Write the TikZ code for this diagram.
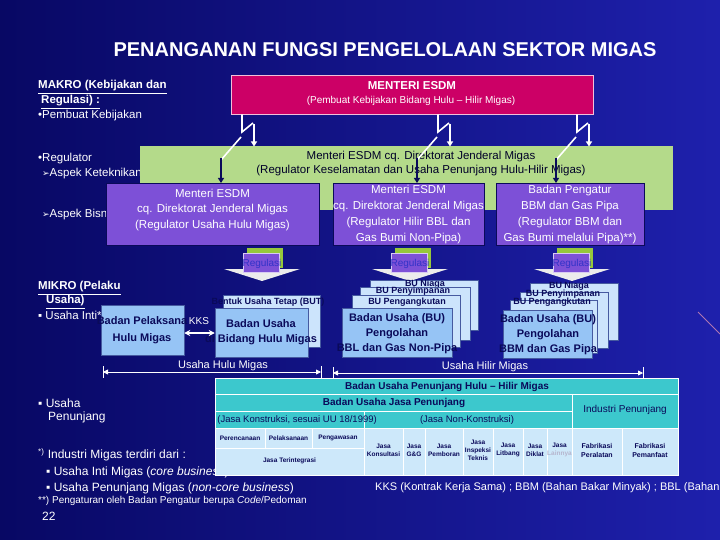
\documentclass[tikz,border=0pt]{standalone}
\usepackage{fontspec}
\setmainfont{Liberation Sans}
\newfontfamily\djv{DejaVu Sans}
\usetikzlibrary{arrows.meta,calc}
\definecolor{bgL}{RGB}{8,8,100}
\definecolor{bgR}{RGB}{30,32,172}
\definecolor{mag}{RGB}{204,0,102}
\definecolor{grn}{RGB}{180,218,138}
\definecolor{rgrn}{RGB}{150,200,60}
\definecolor{pur}{RGB}{125,80,215}
\definecolor{lb}{RGB}{150,196,245}
\definecolor{lbb}{RGB}{204,228,252}
\definecolor{tealc}{RGB}{60,200,205}
\definecolor{tl}{RGB}{205,232,250}
\definecolor{navy}{RGB}{10,10,90}
\definecolor{dk}{RGB}{0,0,40}
\definecolor{regc}{RGB}{50,50,200}
\definecolor{edge}{RGB}{70,90,160}
\newcommand\fsz[2]{\fontsize{#1}{#2}\selectfont}
\tikzset{
  wt/.style={text=white, inner sep=0pt},
  lft/.style={wt, anchor=west, font=\fsz{11.5}{14}},
  nv/.style={text=navy, inner sep=0pt},
  boltw/.style={white, line width=1.6pt},
  boltn/.style={navy, line width=1.6pt},
  pbox/.style={draw=navy, fill=pur, line width=0.8pt, inner sep=0pt},
  lbox/.style={draw=edge, fill=lb, line width=0.5pt, inner sep=0pt},
  bbox/.style={draw=edge, fill=lbb, line width=0.5pt, inner sep=0pt},
  btxt/.style={nv, font=\bfseries\fsz{11}{13}},
  stxt/.style={nv, font=\bfseries\fsz{9}{10}},
  cell/.style={draw=white, line width=0.8pt},
  ctxt/.style={nv, align=center, font=\bfseries\fsz{6.5}{8}},
  regtxt/.style={text=regc, inner sep=0pt, font=\fsz{10}{12}},
  dimline/.style={white, line width=0.8pt}
}
\newcommand\Bolt[1]{%
  \draw[boltw] ({#1},114.5) -- ({#1},132) -- ({#1+11},123);
  \draw[boltw,-{Triangle[width=6pt,length=5pt]}] ({#1+12},124) -- ({#1+12},146.5);
  \draw[boltw] ({#1-1},137) -- ({#1-21},160);
  \draw[boltn,-{Triangle[width=6pt,length=5pt]}] ({#1-21},158) -- ({#1-21},183);
}
\newcommand\RegA[2]{%
  \fill[rgrn] ({#1-15},248) rectangle ({#1+21},268);
  \fill[gray!15] ({#1-38},269) -- ({#1+38},269) -- ({#1},281) -- cycle;
  \node[draw=white!70!pur, fill=pur, inner sep=0pt, minimum width=36pt, minimum height=19pt] (#2) at ({#1-1},262.5) {};
  \node[regtxt] at ({#1},264) {Regulasi};
}
\begin{document}
\begin{tikzpicture}[x=1pt,y=-1pt]
\useasboundingbox (0,0) rectangle (720,540);
\shade[left color=bgL, right color=bgR] (0,0) rectangle (720,540);
\draw[white!60!magenta!60!bgR, line width=1pt] (698,312) -- (720,334);

% title
\node[wt, font=\bfseries\fsz{20}{24}] (title) at (385,50) {PENANGANAN FUNGSI PENGELOLAAN SEKTOR MIGAS};

% left labels
\node[lft, font=\bfseries\fsz{11.5}{14}] (makroA) at (38,87) {\underline{MAKRO (Kebijakan dan}};
\node[lft, font=\bfseries\fsz{11.5}{14}] (makroB) at (41,102) {\underline{Regulasi) :}};
\node[lft, font=\fsz{11.5}{13}] (pk) at (38,116) {•Pembuat Kebijakan};
\node[lft] (reg) at (38,159) {•Regulator};
\node[lft] (asp1) at (42,174) {{\djv\fsz{9}{11}➢}Aspek Keteknikan};
\node[lft] (asp2) at (42,215) {{\djv\fsz{9}{11}➢}Aspek Bisnis};
\node[lft, font=\bfseries\fsz{11.5}{14}] (mikroA) at (38,288) {\underline{MIKRO (Pelaku}};
\node[lft, font=\bfseries\fsz{11.5}{14}] (mikroB) at (46,302) {\underline{Usaha)}};
\node[lft] (inti) at (38,317) {▪ Usaha Inti*)};
\node[lft, font=\fsz{12}{14}] (penA) at (38,403) {▪ Usaha};
\node[lft, font=\fsz{12}{14}] (penB) at (48,417) {Penunjang};
\node[lft, font=\fsz{12}{14}] (ind) at (38,455) {\textsuperscript{*)} Industri Migas terdiri dari :};
\node[lft, font=\fsz{12}{14}] (indA) at (46,472) {▪ Usaha Inti Migas (\textit{core business})};
\node[lft, font=\fsz{12}{14}] (indB) at (46,488) {▪ Usaha Penunjang Migas (\textit{non-core business})};
\node[lft, font=\fsz{10}{11}] (note) at (38,501) {**) Pengaturan oleh Badan Pengatur berupa \textit{Code}/Pedoman};
\node[lft, font=\fsz{12}{14}] (pg) at (42,516) {22};
\node[lft, font=\fsz{11}{14}] (abbr) at (375,488) {KKS (Kontrak Kerja Sama) ; BBM (Bahan Bakar Minyak) ; BBL (Bahan};

% green box
\node[fill=grn, inner sep=0pt, minimum width=533pt, minimum height=64pt] (green) at (406.5,178) {};
\node[text=dk, inner sep=0pt, align=center, font=\fsz{11.5}{14}] (greent) at (421,164) {Menteri ESDM cq. Direktorat Jenderal Migas\\(Regulator Keselamatan dan Usaha Penunjang Hulu-Hilir Migas)};

% magenta box
\node[draw=white!75!mag, fill=mag, line width=0.8pt, inner sep=0pt, minimum width=362pt, minimum height=39pt] (menteri) at (412,94.5) {};
\node[wt, font=\bfseries\fsz{11.5}{13}] (menteriA) at (412,86) {MENTERI ESDM};
\node[wt, font=\fsz{10}{12}] (menteriB) at (411,101) {(Pembuat Kebijakan Bidang Hulu – Hilir Migas)};

% bolts
\Bolt{242}
\Bolt{438}
\Bolt{577}

% purple boxes
\node[pbox, minimum width=213pt, minimum height=62pt] (p1) at (212.5,214) {};
\node[pbox, minimum width=151pt, minimum height=62pt] (p2) at (408.5,214) {};
\node[pbox, minimum width=148pt, minimum height=62pt] (p3) at (570,214) {};
\node[wt, align=center, font=\fsz{11.5}{15.5}] (p1t) at (212.5,210) {Menteri ESDM\\cq. Direktorat Jenderal Migas\\(Regulator Usaha Hulu Migas)};
\node[wt, align=center, font=\fsz{11.5}{15.8}] (p2t) at (408.5,214.5) {Menteri ESDM\\cq. Direktorat Jenderal Migas\\(Regulator Hilir BBL dan\\Gas Bumi Non-Pipa)};
\node[wt, align=center, font=\fsz{11.5}{15.8}] (p3t) at (570,214.5) {Badan Pengatur\\BBM dan Gas Pipa\\(Regulator BBM dan\\Gas Bumi melalui Pipa)**)};

% regulasi arrows
\RegA{262}{r1}
\RegA{410}{r2}
\RegA{572}{r3}

% hulu boxes
\node[lbox, minimum width=83pt, minimum height=50pt] (bp) at (142.5,330) {};
\node[btxt, align=center, font=\bfseries\fsz{11}{17}] (bpt) at (142,330.5) {Badan Pelaksana\\Hulu Migas};
\node[bbox, minimum width=97pt, minimum height=52pt] (but) at (271.5,321) {};
\node[stxt] (butt) at (268,302) {Bentuk Usaha Tetap (BUT)};
\node[lbox, minimum width=93pt, minimum height=49pt] (hf) at (261.5,332.5) {};
\node[btxt, align=center, font=\bfseries\fsz{11}{15}] (hft) at (261,332.5) {Badan Usaha\\di Bidang Hulu Migas};
\draw[white, line width=1.2pt, {Stealth[length=6pt,width=6pt]}-{Stealth[length=6pt,width=6pt]}] (bp.east) ++(0,3) -- ($(hf.west)+(0,0.5)$);
\node[wt, font=\fsz{10}{12}] (kks) at (199,321) {KKS};

% hilir stack 1
\node[bbox, minimum width=108pt, minimum height=50pt] (s1a) at (424,305) {};
\node[stxt] (s1at) at (425,284) {BU Niaga};
\node[bbox, minimum width=110pt, minimum height=53pt] (s1b) at (415,313.5) {};
\node[stxt] (s1bt) at (413,291.5) {BU Penyimpanan};
\node[bbox, minimum width=108pt, minimum height=52pt] (s1c) at (406,321) {};
\node[stxt] (s1ct) at (407,302) {BU Pengangkutan};
\node[lbox, minimum width=110pt, minimum height=49pt] (s1d) at (397,332.5) {};
\node[btxt, align=center, font=\bfseries\fsz{11}{15}] (s1dt) at (397,334) {Badan Usaha (BU)\\Pengolahan\\BBL dan Gas Non-Pipa};

% hilir stack 2
\node[bbox, minimum width=88pt, minimum height=57pt] (s2a) at (574,311.5) {};
\node[stxt] (s2at) at (569,286.5) {BU Niaga};
\node[bbox, minimum width=88pt, minimum height=56pt] (s2b) at (564,320) {};
\node[stxt] (s2bt) at (563,294.5) {BU Penyimpanan};
\node[bbox, minimum width=87pt, minimum height=53pt] (s2c) at (553.5,326.5) {};
\node[stxt] (s2ct) at (552,302.5) {BU Pengangkutan};
\node[lbox, minimum width=89pt, minimum height=48pt] (s2d) at (547.5,334) {};
\node[btxt, align=center, font=\bfseries\fsz{11}{15}] (s2dt) at (548,335) {Badan Usaha (BU)\\Pengolahan\\BBM dan Gas Pipa};

% dimension lines
\coordinate (huluL) at (103,372);
\coordinate (huluR) at (321,372);
\coordinate (hilirL) at (333,373);
\coordinate (hilirR) at (643,373);
\draw[dimline] (103,366) -- (103,378) (321,366) -- (321,378) (333,367) -- (333,379) (643,367) -- (643,379);
\draw[dimline, {Triangle[length=5pt,width=5pt]}-{Triangle[length=5pt,width=5pt]}] (huluL) -- (huluR);
\draw[dimline, {Triangle[length=5pt,width=5pt]}-{Triangle[length=5pt,width=5pt]}] (hilirL) -- (hilirR);
\node[wt, font=\fsz{11}{13}] (hulut) at (223,365.5) {Usaha Hulu Migas};
\node[wt, font=\fsz{11}{13}] (hilirt) at (485,366.5) {Usaha Hilir Migas};

% table
\filldraw[cell, fill=tealc] (215,378) rectangle (678,394);
\filldraw[cell, fill=tealc] (215,394) rectangle (572,411);
\filldraw[cell, fill=tealc] (572,394) rectangle (678,428);
\filldraw[cell, fill=tealc] (215,411) rectangle (364,428);
\filldraw[cell, fill=tealc] (364,411) rectangle (572,428);
\foreach \a/\b in {215/265,265/312,312/364}{\filldraw[cell, fill=tl] (\a,428) rectangle (\b,448);}
\filldraw[cell, fill=tl] (215,448) rectangle (364,475);
\foreach \a/\b in {364/403,403/425,425/463,463/493,493/523,523/547,547/572,572/622,622/678}{\filldraw[cell, fill=tl] (\a,428) rectangle (\b,475);}
\node[nv, font=\bfseries\fsz{10}{12}] (t1) at (447,386.5) {Badan Usaha Penunjang Hulu – Hilir Migas};
\node[nv, font=\bfseries\fsz{10}{12}] (t2) at (394,403) {Badan Usaha Jasa Penunjang};
\node[nv, font=\fsz{10}{12}] (t3) at (625,410) {Industri Penunjang};
\node[nv, anchor=east, font=\fsz{9.5}{12}] (t4) at (377,420) {(Jasa Konstruksi, sesuai UU 18/1999)};
\node[nv, font=\fsz{9.5}{12}] (t5) at (467,420) {(Jasa Non-Konstruksi)};
\node[ctxt] at (240,438) {Perencanaan};
\node[ctxt] at (288.5,438) {Pelaksanaan};
\node[ctxt] at (338,438) {Pengawasan};
\node[ctxt] at (289.5,461) {Jasa Terintegrasi};
\node[ctxt] at (383.5,450) {Jasa\\Konsultasi};
\node[ctxt] at (414,450) {Jasa\\G\&G};
\node[ctxt] at (444,450) {Jasa\\Pemboran};
\node[ctxt] at (478,450) {Jasa\\Inspeksi\\Teknis};
\node[ctxt] at (508,450) {Jasa\\Litbang};
\node[ctxt] at (535,450) {Jasa\\Diklat};
\node[ctxt] at (559.5,450) {Jasa\\{\color{white!70!navy}Lainnya}};
\node[ctxt, font=\bfseries\fsz{7}{9}] at (597,450) {Fabrikasi\\Peralatan};
\node[ctxt, font=\bfseries\fsz{7}{9}] at (650,450) {Fabrikasi\\Pemanfaat};
\end{tikzpicture}
\end{document}
